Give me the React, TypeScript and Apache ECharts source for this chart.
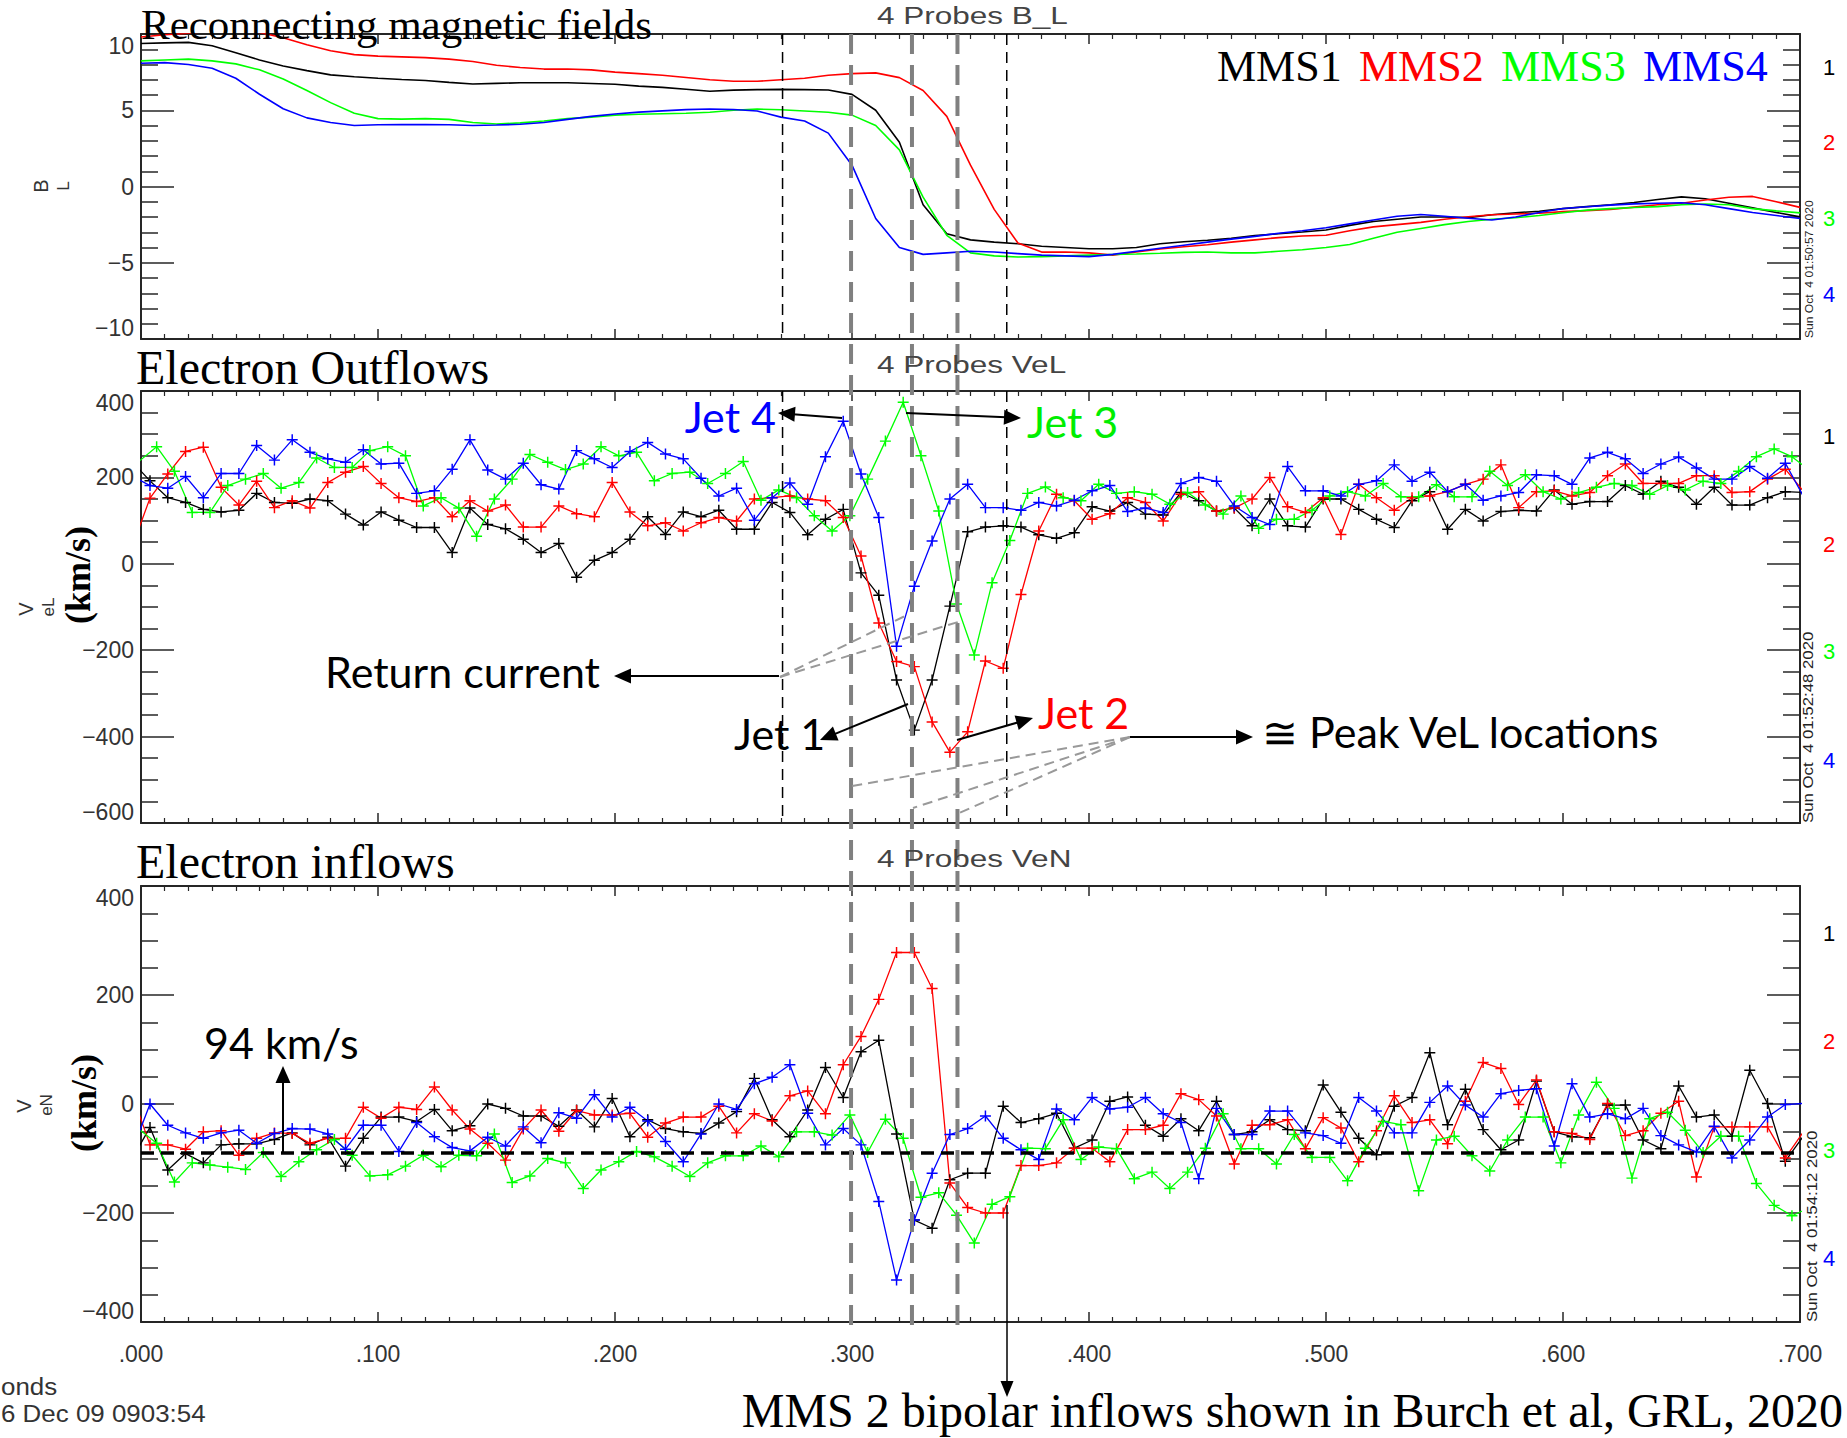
import React, { useEffect, useRef } from 'react';
import * as echarts from 'echarts';

// ---------------- Top panel: B_L (nT), read every 0.01 s from 0 to 0.70 s
const BL_STEP = 0.01;
const BL_MMS1 = [9.38,9.42,9.45,9.23,8.77,8.3,7.9,7.6,7.32,7.2, 7.1,7.02,6.95,6.83,6.72,6.76,6.8,6.8,6.8,6.75, 6.7,6.58,6.5,6.38,6.25,6.32,6.35,6.37,6.35,6.33, 6.04,5.0,2.9,-1.2,-3.1,-3.5,-3.65,-3.75,-3.92,-4.0, -4.08,-4.08,-4.0,-3.75,-3.62,-3.52,-3.4,-3.22,-3.1,-2.98, -2.85,-2.55,-2.3,-2.15,-2.0,-2.0,-2.04,-1.85,-1.72,-1.62, -1.45,-1.32,-1.2,-1.05,-0.85,-0.68,-0.8,-1.1,-1.4,-1.7, -1.99];
const BL_MMS2 = [9.8,9.95,10.05,10.2,10.2,10.1,9.75,9.3,8.9,8.65, 8.55,8.5,8.45,8.35,8.2,7.95,7.8,7.7,7.7,7.65, 7.5,7.4,7.3,7.15,7.0,6.9,6.9,7.0,7.1,7.3, 7.4,7.45,7.14,6.3,4.6,1.4,-1.5,-3.7,-4.3,-4.3, -4.35,-4.5,-4.3,-4.1,-3.95,-3.82,-3.65,-3.5,-3.35,-3.25, -3.2,-2.9,-2.65,-2.5,-2.35,-2.15,-1.98,-1.85,-1.8,-1.75, -1.65,-1.58,-1.5,-1.35,-1.2,-1.1,-0.88,-0.7,-0.65,-1.0, -1.37];
const BL_MMS3 = [8.24,8.3,8.35,8.24,8.04,7.65,7.05,6.3,5.5,4.8, 4.45,4.42,4.45,4.4,4.2,4.1,4.17,4.3,4.45,4.55, 4.68,4.74,4.77,4.8,4.87,5.0,5.08,5.03,4.95,4.87, 4.68,4.0,2.4,-0.7,-3.2,-4.35,-4.55,-4.62,-4.6,-4.55, -4.5,-4.46,-4.43,-4.38,-4.32,-4.3,-4.35,-4.35,-4.25,-4.15, -4.0,-3.8,-3.4,-3.0,-2.75,-2.5,-2.3,-2.15,-2.05,-1.9, -1.72,-1.55,-1.45,-1.38,-1.32,-1.2,-1.15,-1.2,-1.45,-1.6, -1.73];
const BL_MMS4 = [8.08,8.12,8.0,7.75,7.1,6.05,5.1,4.5,4.2,4.0, 4.05,4.06,4.06,4.05,4.0,4.03,4.08,4.2,4.4,4.6, 4.75,4.88,4.96,5.04,5.08,5.05,4.95,4.55,4.3,3.5, 1.4,-2.1,-4.0,-4.45,-4.35,-4.25,-4.3,-4.4,-4.5,-4.55, -4.6,-4.45,-4.25,-4.05,-3.85,-3.65,-3.45,-3.27,-3.07,-2.9, -2.7,-2.45,-2.2,-1.95,-1.84,-1.95,-2.08,-2.2,-2.0,-1.7, -1.44,-1.33,-1.22,-1.14,-1.1,-1.07,-1.2,-1.45,-1.7,-1.9, -2.1];

// ---------------- Electron velocity, 7.5 ms cadence
const VE_DT = 0.0075;
const VE_T0_MMS124 = -0.0037; // first sample time of MMS1, MMS2, MMS4 (s)
const VE_T0_MMS3 = -0.0009;   // first sample time of MMS3 (s)

const VEL_MMS1 = [236,192,153,142,126,120,124,163,142,140, 150,146,115,90,120,101,84,84,26,129, 91,81,57,26,47,-31,8,26,57,109, 68,120,109,124,80,80,142,119,67,103, 126,-21,-73,-269,-385,-269,-98,74,85,88, 85,67,59,72,132,122,142,115,113,165, 146,122,129,88,150,88,85,150,150,126, 103,84,146,167,80,126,99,121,124,122, 171,138,144,144,181,161,191,177,138,177, 136,136,153,167,165];
const VEL_MMS2 = [40,152,208,260,270,177,136,191,130,146, 129,188,212,225,186,153,144,153,109,146, 122,136,85,85,134,116,109,188,120,88, 95,76,95,107,99,150,153,157,150,146, 107,18,-137,-226,-238,-366,-436,-389,-225,-242, -71,76,161,146,103,116,153,142,99,161, 167,122,129,150,200,132,119,153,68,184, 153,124,153,157,167,184,196,229,130,167, 169,157,165,204,231,186,186,186,204,204, 165,167,196,219,169];
const VEL_MMS3 = [237,271,214,119,119,181,196,209,175,188, 245,223,223,262,271,250,134,153,129,64, 150,196,253,235,218,231,271,250,258,192, 209,212,186,209,237,147,171,153,111,76, 111,196,284,374,250,122,-93,-211,-44,54, 163,178,153,146,184,163,167,161,138,165, 136,115,157,82,103,103,124,157,167,157, 186,155,155,183,155,155,214,181,206,167, 150,165,177,186,181,161,181,171,191,186, 214,248,266,248,216];
const VEL_MMS4 = [203,181,175,202,153,209,209,274,240,287, 258,243,235,264,231,233,163,169,219,287, 217,196,233,183,173,262,243,223,260,281, 254,243,198,157,175,101,153,187,138,248, 330,208,107,-191,-52,53,150,184,130,130, 124,142,134,147,169,181,121,129,119,186, 200,191,134,107,91,225,169,169,157,184, 192,229,191,212,167,184,147,157,165,206, 204,184,245,258,243,209,231,247,222,196, 196,225,198,233,157];

const VEN_MMS1 = [-100,-43,-121,-91,-108,-75,-73,-73,-65,-53, -75,-61,-114,-63,-24,-24,-32,-10,-49,-40, 0,-8,-22,-22,-41,-11,-42,10,-60,-29, -45,-51,-54,-35,-14,47,-29,-60,-11,67, 12,96,117,-55,-213,-228,-139,-127,-127,-4, -34,-27,-17,-81,-66,5,13,-39,-59,-27, -49,5,-56,-51,-29,-47,-49,35,-15,-63, -93,-4,12,94,-38,27,-47,-84,-66,42, -51,-60,-62,-2,-2,-66,-82,33,-24,-20, -59,62,1,-105,-60];
const VEN_MMS2 = [17,-75,-75,-83,-51,-49,-94,-63,-53,-54, -72,-63,-63,-6,-26,-6,-10,31,-11,-46, -72,-103,-46,-11,-50,-12,-20,-20,-17,-61, -35,-24,-24,-4,-53,-18,-31,15,24,-18, 72,124,192,278,278,212,-145,-190,-200,-200, -113,-113,-108,-81,-81,-106,-47,-47,-39,19, 8,-22,-110,-39,-38,-29,-82,-25,-44,-106, -49,15,-34,-29,-73,5,76,65,-1,44, -51,-54,-65,1,-58,-49,-17,5,-134,-42, -42,-42,-42,-99,-52];
const VEN_MMS3 = [-46,-72,-143,-108,-112,-116,-120,-89,-133,-106, -84,-65,-94,-132,-130,-114,-94,-115,-94,-95, -55,-144,-132,-100,-108,-155,-121,-106,-87,-97, -114,-133,-108,-95,-95,-77,-97,-51,-51,-57, -20,-89,-28,-63,-171,-163,-204,-255,-184,-170, -81,-82,-29,-102,-79,-82,-137,-125,-155,-125, -81,-18,-82,-82,-110,-56,-98,-98,-141,-81, -32,-38,-159,-66,-59,-95,-123,-66,-24,-24, -108,-20,40,-8,-136,-27,-15,-48,-89,-59, -59,-146,-186,-205,-190];
const VEN_MMS4 = [-85,0,-39,-53,-63,-53,-48,-72,-54,-45, -46,-55,-83,-39,-39,-87,-34,-60,-80,-86, -61,-77,-42,-71,-16,-26,17,-24,-6,-31, -69,-106,-55,0,-10,37,49,72,-17,-75, -45,-75,-179,-323,-213,-127,-56,-45,-22,-63, -84,-102,-9,-29,12,-9,-6,12,-18,-34, -137,-8,-56,-56,-13,-13,-53,-58,-72,12, -13,-53,-53,3,33,-2,-24,19,25,28, -77,37,-24,-18,-27,-8,-58,-75,-88,-41, -99,-66,-24,-1,1];

// ---------------- reference times / levels
const PEAK_TIMES = [0.2996, 0.3253, 0.3445];   // thick gray dashed (peak VeL locations)
const REGION_TIMES = [0.2707, 0.3653];         // thin black dashed
const VEN_REF = -90;                           // ~94 km/s inflow level

const SERIES_NAMES = ['MMS1', 'MMS2', 'MMS3', 'MMS4'];
const COLORS = ['#000000', '#ff0000', '#00ff00', '#0000ff'];
const PANEL_TITLES = ['Reconnecting magnetic fields', 'Electron Outflows', 'Electron inflows'];
const PANEL_SUBTITLES = ['4 Probes B_L', '4 Probes VeL', '4 Probes VeN'];
const DATE_STAMPS = ['Sun Oct  4 01:50:57 2020', 'Sun Oct  4 01:52:48 2020', 'Sun Oct  4 01:54:12 2020'];

const PLUS = 'path://M-0.8,-6H0.8V-0.8H6V0.8H0.8V6H-0.8V0.8H-6V-0.8H-0.8Z';
const AX = '#262626';
const SANS = 'Liberation Sans';
const SERIF = 'Liberation Serif';
const NOTE = 'Lato';

const GRIDS = [
  { left: 141, top: 34, width: 1659, height: 305 },
  { left: 141, top: 391, width: 1659, height: 432 },
  { left: 141, top: 886, width: 1659, height: 436 },
];

const pairs = (t0: number, dt: number, vals: number[]) => vals.map((v, i) => [+(t0 + dt * i).toFixed(5), v]);

function xAxisPair(gridIndex: number, labels: boolean) {
  const base: any = {
    type: 'value', gridIndex, min: 0, max: 0.7, interval: 0.1,
    axisLine: { show: true, onZero: false, lineStyle: { color: AX, width: 2 } },
    axisTick: { show: true, inside: true, length: 10, lineStyle: { color: AX, width: 1.5 } },
    minorTick: { show: true, splitNumber: 10, length: 5, lineStyle: { color: AX, width: 1.2 } },
    splitLine: { show: false }, minorSplitLine: { show: false },
  };
  return [
    { ...base, position: 'bottom', axisLabel: { show: labels, margin: 20, fontSize: 23, color: '#333', fontFamily: SANS,
      formatter: (v: number) => '.' + String(Math.round(v * 1000)).padStart(3, '0') } },
    { ...base, position: 'top', axisLabel: { show: false } },
  ];
}

function yAxisPair(gridIndex: number, min: number, max: number, interval: number, split: number) {
  const base: any = {
    type: 'value', gridIndex, min, max, interval,
    axisLine: { show: true, onZero: false, lineStyle: { color: AX, width: 2 } },
    axisTick: { show: true, inside: true, length: 33, lineStyle: { color: AX, width: 1.5 } },
    minorTick: { show: true, splitNumber: split, length: 17, lineStyle: { color: AX, width: 1.5 } },
    splitLine: { show: false }, minorSplitLine: { show: false },
  };
  return [
    { ...base, position: 'left', axisLabel: { show: true, margin: 7, fontSize: 23, color: '#333', fontFamily: SANS,
      verticalAlignMinLabel: 'bottom', verticalAlignMaxLabel: 'top',
      formatter: (v: number) => String(v).replace('-', '\u2212') } },
    { ...base, position: 'right', axisLabel: { show: false } },
  ];
}

function buildOption(): any {
  const series: any[] = [];
  const bl = [BL_MMS1, BL_MMS2, BL_MMS3, BL_MMS4];
  const vel = [VEL_MMS1, VEL_MMS2, VEL_MMS3, VEL_MMS4];
  const ven = [VEN_MMS1, VEN_MMS2, VEN_MMS3, VEN_MMS4];
  bl.forEach((vals, k) => series.push({
    name: SERIES_NAMES[k] + ' B_L', type: 'line', xAxisIndex: 0, yAxisIndex: 0, silent: true,
    data: pairs(0, BL_STEP, vals), showSymbol: false, symbol: 'none',
    lineStyle: { color: COLORS[k], width: 1.6 }, itemStyle: { color: COLORS[k] },
  }));
  vel.forEach((vals, k) => series.push({
    name: SERIES_NAMES[k] + ' VeL', type: 'line', xAxisIndex: 2, yAxisIndex: 2, silent: true,
    data: pairs(k === 2 ? VE_T0_MMS3 : VE_T0_MMS124, VE_DT, vals),
    symbol: PLUS, symbolSize: 11, showSymbol: true,
    lineStyle: { color: COLORS[k], width: 1.3 }, itemStyle: { color: COLORS[k] },
  }));
  ven.forEach((vals, k) => series.push({
    name: SERIES_NAMES[k] + ' VeN', type: 'line', xAxisIndex: 4, yAxisIndex: 4, silent: true,
    data: pairs(k === 2 ? VE_T0_MMS3 : VE_T0_MMS124, VE_DT, vals),
    symbol: PLUS, symbolSize: 11, showSymbol: true,
    lineStyle: { color: COLORS[k], width: 1.3 }, itemStyle: { color: COLORS[k] },
  }));
  return {
    animation: false,
    backgroundColor: '#ffffff',
    grid: GRIDS,
    xAxis: [...xAxisPair(0, false), ...xAxisPair(1, false), ...xAxisPair(2, true)],
    yAxis: [...yAxisPair(0, -10, 10, 5, 5), ...yAxisPair(1, -600, 400, 200, 4), ...yAxisPair(2, -400, 400, 200, 4)],
    series,
  };
}

function txt(text: string, x: number, y: number, o: any = {}) {
  return {
    type: 'text', x, y, rotation: o.rotation || 0, z: 120, silent: true,
    scaleX: o.scaleX || 1,
    style: {
      text, fill: o.color || '#000', fontSize: o.size || 20, fontFamily: o.family || SANS,
      fontWeight: o.weight || 'normal',
      textAlign: o.align || 'left', align: o.align || 'left',
      textVerticalAlign: o.valign || 'middle', verticalAlign: o.valign || 'middle',
    },
  };
}

function arrow(x1: number, y1: number, x2: number, y2: number, color = '#000', w = 2, hl = 17, hw = 7.5) {
  const dx = x2 - x1, dy = y2 - y1, len = Math.hypot(dx, dy);
  const ux = dx / len, uy = dy / len;
  const bx = x2 - ux * hl, by = y2 - uy * hl;
  const px = -uy * hw, py = ux * hw;
  return [
    { type: 'line', z: 110, silent: true, shape: { x1, y1, x2: bx + ux * 2, y2: by + uy * 2 }, style: { stroke: color, lineWidth: w } },
    { type: 'polygon', z: 111, silent: true, shape: { points: [[x2, y2], [bx + px, by + py], [bx - px, by - py]] }, style: { fill: color } },
  ];
}

function dashed(x1: number, y1: number, x2: number, y2: number, color: string, w: number, dash: number[], z = 105) {
  return { type: 'line', z, silent: true, shape: { x1, y1, x2, y2 }, style: { stroke: color, lineWidth: w, lineDash: dash } };
}

export default function App() {
  const ref = useRef<HTMLDivElement>(null);
  useEffect(() => {
    if (!ref.current) return;
    const chart = echarts.init(ref.current, null, { renderer: 'svg' });
    chart.setOption(buildOption());
    const px = (t: number) => chart.convertToPixel({ xAxisIndex: 0 }, t) as number;
    const py = (axis: number, v: number) => chart.convertToPixel({ yAxisIndex: axis }, v) as number;
    const g: any[] = [];
    // thin black dashed region lines in the B_L and VeL panels
    REGION_TIMES.forEach((t) => {
      g.push(dashed(px(t), py(0, 10), px(t), py(0, -10), '#000', 1.5, [11, 7], 90));
      g.push(dashed(px(t), py(2, 400), px(t), py(2, -600), '#000', 1.5, [11, 7], 90));
    });
    // VeN reference level
    g.push(dashed(px(0), py(4, VEN_REF), px(0.7), py(4, VEN_REF), '#000', 3.5, [13, 7], 95));
    // thick gray dashed lines across all panels
    PEAK_TIMES.forEach((t) => g.push(dashed(px(t), 34, px(t), 1326, '#808080', 4, [20, 11], 100)));
    // panel titles
    g.push(txt(PANEL_TITLES[0], 141, 24, { family: SERIF, size: 43 }));
    g.push(txt(PANEL_TITLES[1], 136, 367, { family: SERIF, size: 48 }));
    g.push(txt(PANEL_TITLES[2], 136, 861, { family: SERIF, size: 48 }));
    // subtitles
    [16, 365, 859].forEach((y, i) => g.push(txt(PANEL_SUBTITLES[i], 877, y, { size: 23, color: '#444', scaleX: 1.37 })));
    // legend
    [1217, 1359, 1501, 1643].forEach((x, i) => g.push(txt(SERIES_NAMES[i], x, 66, { family: SERIF, size: 44, color: COLORS[i] })));
    // right side probe numbers
    const numY = [[67, 142, 218, 294], [436, 544, 651, 760], [933, 1041, 1150, 1258]];
    numY.forEach((row) => row.forEach((y, i) => g.push(txt(String(i + 1), 1829, y, { size: 22, color: COLORS[i], align: 'center' }))));
    // rotated date stamps
    [[1809, 338, 11, 1.1], [1808, 823, 14, 1.2], [1812, 1322, 14, 1.2]].forEach(([x, y, s, sx], i) =>
      g.push(txt(DATE_STAMPS[i], x, y, { size: s, scaleX: sx, rotation: Math.PI / 2, color: '#222', family: SANS })));
    // y-axis titles
    g.push(txt('B', 41, 186, { size: 20, rotation: Math.PI / 2, align: 'center', color: '#333' }));
    g.push(txt('L', 63, 186, { size: 17, rotation: Math.PI / 2, align: 'center', color: '#333' }));
    g.push(txt('V', 26, 609, { size: 20, rotation: Math.PI / 2, align: 'center', color: '#333' }));
    g.push(txt('eL', 48, 607, { size: 17, rotation: Math.PI / 2, align: 'center', color: '#333' }));
    g.push(txt('(km/s)', 78, 575, { size: 36, rotation: Math.PI / 2, align: 'center', family: SERIF, weight: 'bold' }));
    g.push(txt('V', 24, 1106, { size: 20, rotation: Math.PI / 2, align: 'center', color: '#333' }));
    g.push(txt('eN', 46, 1105, { size: 17, rotation: Math.PI / 2, align: 'center', color: '#333' }));
    g.push(txt('(km/s)', 84, 1103, { size: 36, rotation: Math.PI / 2, align: 'center', family: SERIF, weight: 'bold' }));
    // bottom-left stamp
    g.push(txt('onds', 1, 1386, { size: 24, color: '#333', scaleX: 1.08 }));
    g.push(txt('6 Dec 09 0903:54', 1, 1413, { size: 24, color: '#333', scaleX: 1.08 }));
    // annotations
    g.push(txt('Jet 4', 776, 416, { family: NOTE, size: 43, color: '#0000ff', align: 'right' }));
    g.push(...arrow(842, 418, 778, 413));
    g.push(txt('Jet 3', 1027, 421, { family: NOTE, size: 43, color: '#00ee00' }));
    g.push(...arrow(906, 413, 1021, 418));
    g.push(txt('Return current', 600, 671, { family: NOTE, size: 43, align: 'right' }));
    g.push(...arrow(779, 676, 614, 676));
    g.push(dashed(780, 677, 905, 616, '#999999', 2, [10, 6]));
    g.push(dashed(780, 677, 958, 622, '#999999', 2, [10, 6]));
    g.push(txt('Jet 1', 734, 733, { family: NOTE, size: 43 }));
    g.push(...arrow(908, 704, 820, 740));
    g.push(txt('Jet 2', 1038, 712, { family: NOTE, size: 43, color: '#ff0000' }));
    g.push(...arrow(957, 740, 1033, 718));
    g.push(txt('\u2245 Peak VeL locations', 1262, 731, { family: NOTE, size: 43 }));
    g.push(...arrow(1130, 737, 1253, 737));
    g.push(dashed(1130, 737, 852, 786, '#999999', 2, [10, 6]));
    g.push(dashed(1130, 737, 913, 808, '#999999', 2, [10, 6]));
    g.push(dashed(1130, 737, 957, 814, '#999999', 2, [10, 6]));
    g.push(txt('94 km/s', 204, 1042, { family: NOTE, size: 43 }));
    g.push(...arrow(283, py(4, VEN_REF), 283, 1066));
    g.push(...arrow(1007, 1205, 1007, 1397, '#000', 1.5, 16, 6.5));
    g.push(txt('MMS 2 bipolar inflows shown in Burch et al, GRL, 2020', 1843, 1410, { family: SERIF, size: 48, align: 'right' }));
    chart.setOption({ graphic: g });
    return () => chart.dispose();
  }, []);
  return <div ref={ref} style={{ position: 'absolute', left: 0, top: 0, width: 1847, height: 1438, background: '#fff' }} />;
}
